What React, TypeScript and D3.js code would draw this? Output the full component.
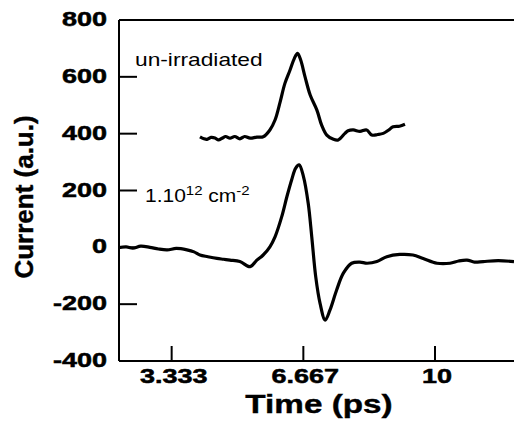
import React from 'react';
import * as d3 from 'd3';

// un-irradiated trace (time in ps, current in a.u.)
const upperT = [4.05, 4.15, 4.23, 4.33, 4.43, 4.52, 4.61, 4.7, 4.81, 4.93, 5.06, 5.18, 5.32, 5.49, 5.65, 5.82, 5.95, 6.08, 6.2, 6.33, 6.44, 6.52, 6.6, 6.71, 6.84, 7.01, 7.13, 7.26, 7.43, 7.55, 7.72, 7.8, 7.93, 8.1, 8.27, 8.4, 8.55, 8.69, 8.82, 8.94, 9.1, 9.24];
const upperV = [389, 382, 380, 387, 385, 378, 384, 390, 384, 390, 382, 390, 384, 388, 389, 413, 448, 512, 577, 624, 665, 683, 659, 600, 536, 483, 430, 395, 380, 378, 401, 410, 413, 408, 413, 395, 397, 401, 412, 424, 426, 433];

// 1.10^12 cm^-2 trace
const lowerT = [2.0, 2.18, 2.35, 2.55, 2.78, 3.0, 3.22, 3.45, 3.72, 3.9, 4.05, 4.25, 4.48, 4.65, 4.81, 5.06, 5.32, 5.49, 5.65, 5.82, 5.95, 6.12, 6.25, 6.37, 6.47, 6.56, 6.67, 6.79, 6.88, 6.98, 7.09, 7.22, 7.34, 7.51, 7.68, 7.89, 8.1, 8.28, 8.53, 8.78, 9.11, 9.44, 9.7, 10.05, 10.38, 10.6, 10.81, 11.0, 11.22, 11.6, 12.0];
const lowerV = [-1, 2, -3, 4, 0, -6, -9, -4, -9, -16, -27, -33, -39, -42, -45, -50, -68, -45, -27, 2, 37, 108, 178, 237, 278, 290, 249, 155, 37, -103, -197, -256, -221, -150, -91, -56, -52, -56, -50, -33, -25, -27, -39, -56, -56, -48, -45, -52, -50, -47, -50];

const yTicks = [800, 600, 400, 200, 0, -200, -400];
const xTicks = [3.333, 6.667, 10];
const xTickLabels = ['3.333', '6.667', '10'];

const W = 514;
const H = 424;
const left = 119, right = 514, top = 20, bottom = 361;
const sx = 1.35; // the picture is stretched sideways

export default function App() {
  const x = d3.scaleLinear().domain([2, 12]).range([left, right]);
  const y = d3.scaleLinear().domain([-400, 800]).range([bottom, top]);

  const line = d3.line<[number, number]>()
    .x(d => x(d[0]))
    .y(d => y(d[1]))
    .curve(d3.curveCatmullRom.alpha(0.5));

  const upper = upperT.map((t, i) => [t, upperV[i]] as [number, number]);
  const lower = lowerT.map((t, i) => [t, lowerV[i]] as [number, number]);

  const font = '"Liberation Sans", Arial, sans-serif';

  return (
    <svg width={W} height={H} style={{ position: 'absolute', left: 0, top: 0, background: '#fff' }} fontFamily={font}>
      {/* frame */}
      <line x1={left} x2={left} y1={top} y2={bottom} stroke="#000" strokeWidth={2} />
      <line x1={left} x2={right} y1={top} y2={top} stroke="#000" strokeWidth={2} />
      <line x1={left} x2={right} y1={bottom} y2={bottom} stroke="#000" strokeWidth={2} />

      {yTicks.map(v => (
        <g key={v}>
          {v > -400 && v < 800 && (
            <line x1={left} x2={left + 18} y1={y(v)} y2={y(v)} stroke="#000" strokeWidth={2} />
          )}
          <text transform={`translate(${left - 12},${y(v) + 6}) scale(${sx},1)`} textAnchor="end"
            fontSize={20} fontWeight="bold" stroke="#000" strokeWidth={0.5}>{v}</text>
        </g>
      ))}

      {xTicks.map((v, i) => (
        <g key={v}>
          <line x1={x(v)} x2={x(v)} y1={bottom} y2={bottom - 15} stroke="#000" strokeWidth={2} />
          <text transform={`translate(${x(v) + 2},${bottom + 22}) scale(${sx},1)`} textAnchor="middle"
            fontSize={20} fontWeight="bold" stroke="#000" strokeWidth={0.5}>{xTickLabels[i]}</text>
        </g>
      ))}

      <path d={line(upper) ?? ''} fill="none" stroke="#000" strokeWidth={3.2} strokeLinejoin="round" />
      <path d={line(lower) ?? ''} fill="none" stroke="#000" strokeWidth={3.2} strokeLinejoin="round" />

      <text transform={`translate(135,66) scale(1.3,1)`} fontSize={17.5}>un-irradiated</text>
      <text transform={`translate(145,202) scale(1.2,1)`} fontSize={17.5}>
        1.10<tspan dy={-7} fontSize={12.5}>12</tspan><tspan dy={7}> cm</tspan><tspan dy={-7} fontSize={12.5}>-2</tspan>
      </text>

      <text transform={`translate(319,413) scale(1.28,1)`} textAnchor="middle" fontSize={26} fontWeight="bold"
        stroke="#000" strokeWidth={0.4}>Time (ps)</text>
      <text transform={`translate(33,197) rotate(-90)`} textAnchor="middle" fontSize={26} fontWeight="bold"
        stroke="#000" strokeWidth={0.4}>Current (a.u.)</text>
    </svg>
  );
}
